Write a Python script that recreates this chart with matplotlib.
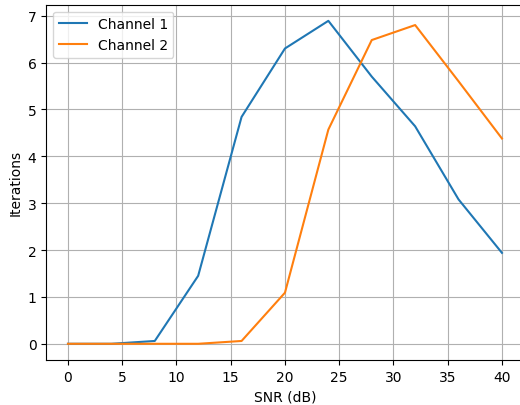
import matplotlib
matplotlib.use('Agg')
import matplotlib.pyplot as plt

# SNR values (dB) and mean iterations per channel
snr = [0, 4, 8, 12, 16, 20, 24, 28, 32, 36, 40]
channel_1 = [0, 0, 0.06, 1.45, 4.84, 6.30, 6.89, 5.70, 4.64, 3.08, 1.94]
channel_2 = [0, 0, 0, 0, 0.06, 1.09, 4.57, 6.48, 6.80, 5.60, 4.38]

fig, ax = plt.subplots(figsize=(5.2, 4.06), dpi=100)
ax.plot(snr, channel_1, label='Channel 1')
ax.plot(snr, channel_2, label='Channel 2')
ax.set_xlabel('SNR (dB)')
ax.set_ylabel('Iterations')
ax.grid(True)
ax.legend(loc='upper left')

# right spine sits just past the image edge in the original
plt.subplots_adjust(left=0.089, right=1.007, top=0.986, bottom=0.111)
plt.savefig('out.png', dpi=100)
